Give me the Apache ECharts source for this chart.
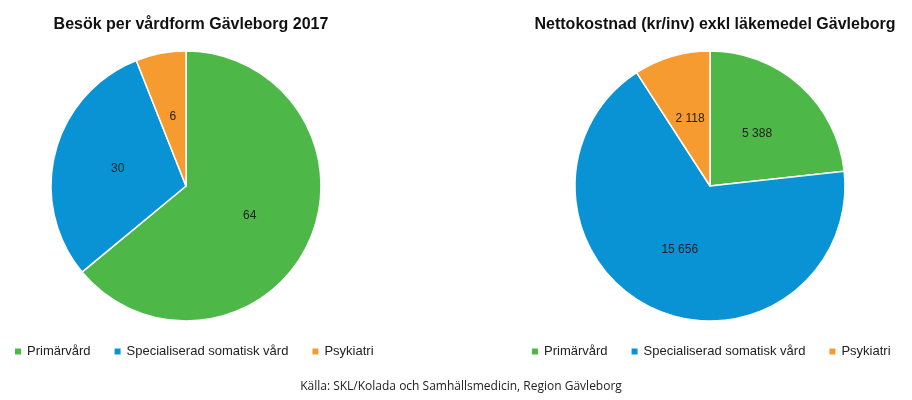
<!DOCTYPE html><html><head><meta charset="utf-8"><script src="https://cdn.jsdelivr.net/npm/echarts@6/dist/echarts.min.js"></script>
<style>html,body{margin:0;background:#fff}#c{width:912px;height:400px}</style></head><body><div id="c"></div><script>
const categories=['Primärvård','Specialiserad somatisk vård','Psykiatri'];
const visits=[64,30,6];
const cost=[5388,15656,2118];
const colors=['#4DB848','#0A93D4','#F59B30'];
const fmt=v=>String(v).replace(/\B(?=(\d{3})+(?!\d))/g,' ');
const mk=(vals,cx,name)=>({type:'pie',name,center:[cx,186],radius:[0,135],startAngle:90,clockwise:true,
 data:categories.map((c,i)=>({name:c,value:vals[i]})),
 itemStyle:{borderColor:'#fff',borderWidth:1.5},
 label:{position:'inside',formatter:p=>fmt(p.value),color:'#222',fontSize:12,fontFamily:'Liberation Sans'},
 labelLine:{show:false},emphasis:{disabled:true}});
const ch=echarts.init(document.getElementById('c'));
const legendBase={icon:'rect',itemWidth:8,itemHeight:8,itemGap:22,textStyle:{fontSize:13,color:'#222',fontFamily:'Liberation Sans'},data:categories};
ch.setOption({color:colors,animation:false,
 title:[{text:'Besök per vårdform Gävleborg 2017',left:186,top:12,textAlign:'center',textStyle:{fontSize:16,fontWeight:'bold',color:'#111',fontFamily:'Liberation Sans'}},
 {text:'Nettokostnad (kr/inv) exkl läkemedel Gävleborg',left:710,top:12,textAlign:'center',textStyle:{fontSize:16,fontWeight:'bold',color:'#111',fontFamily:'Liberation Sans'}},
 {text:'Källa: SKL/Kolada och Samhällsmedicin, Region Gävleborg',left:456,top:376,textAlign:'center',textStyle:{fontSize:12,fontWeight:'normal',color:'#222',fontFamily:'Open Sans'}}],
 legend:[Object.assign({left:8,top:340},legendBase),Object.assign({left:525,top:340},legendBase)],
 series:[mk(visits,186,'a'),mk(cost,710,'b')]});
</script></body></html>
